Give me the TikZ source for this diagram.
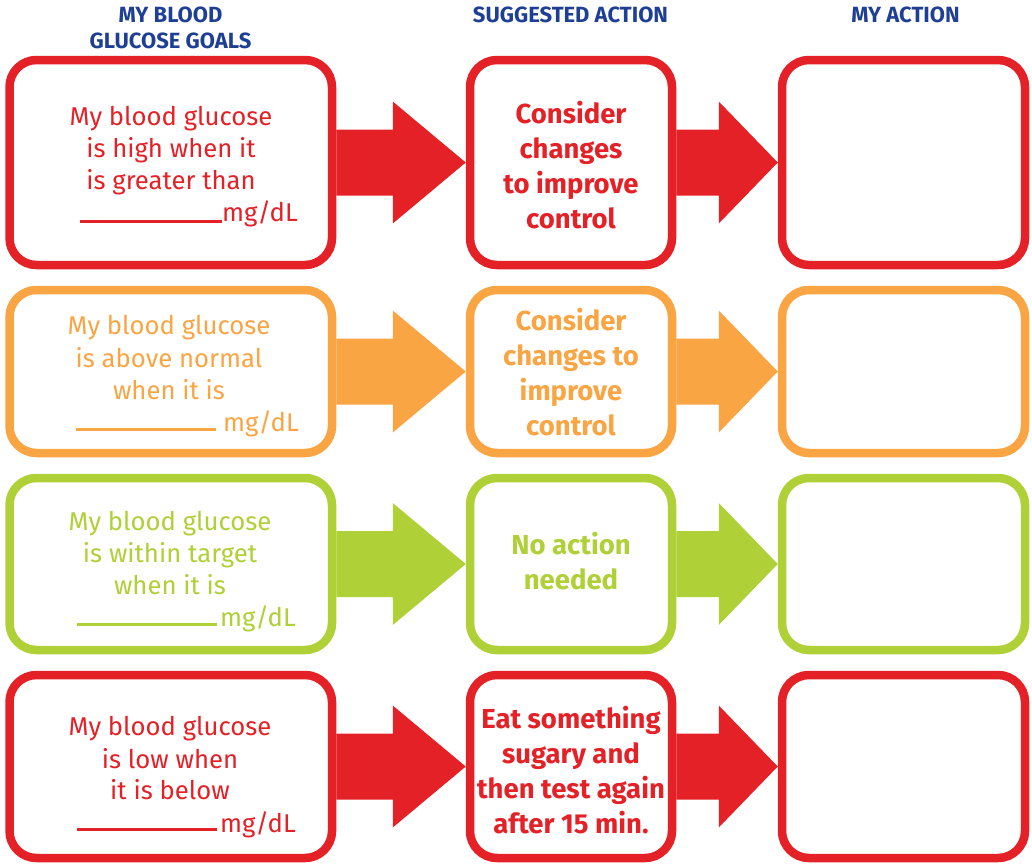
\documentclass[tikz,border=0pt]{standalone}
\usepackage{fontspec}
\setmainfont{Fira Sans}
\newfontfamily\hdrfont{Fira Sans}
\usetikzlibrary{calc}
\definecolor{cred}{RGB}{227,33,39}
\definecolor{corange}{RGB}{249,165,67}
\definecolor{cgreen}{RGB}{175,208,54}
\definecolor{cnavy}{RGB}{30,63,148}
\begin{document}
\begin{tikzpicture}[x=1pt,y=-1pt,
  box/.style={draw=#1, line width=8.5pt, rounded corners=27pt, inner sep=0pt, fill=white},
  goal/.style={text=#1, font=\fontsize{25.7}{32}\selectfont, inner sep=0pt, anchor=base},
  act/.style={text=#1, font=\fontsize{27.5}{35}\selectfont\bfseries, inner sep=0pt, anchor=base},
  hdr/.style={text=cnavy, font=\hdrfont\fontsize{22}{26}\selectfont\bfseries, inner sep=0pt, anchor=base},
  blank/.style={draw=#1, line width=3pt},
  leftbox/.style={minimum width=322.5pt},
  midbox/.style={minimum width=202pt},
  rightbox/.style={minimum width=243pt}]
\useasboundingbox (0,0) rectangle (1032,863);

% headers
\node[hdr] (H1a) at (170.5,22.5) {MY BLOOD};
\node[hdr] (H1b) at (170.5,48.7) {GLUCOSE GOALS};
\node[hdr] (H2) at (570.5,22.5) {SUGGESTED ACTION};
\node[hdr] (H3) at (905.5,22.5) {MY ACTION};

% ---------- Row 1 ----------
\node[box=cred, leftbox, minimum height=205pt] (L1) at (170.75,162.5) {};
\node[box=cred, midbox, minimum height=205pt] (M1) at (571,162.5) {};
\node[box=cred, rightbox, minimum height=205pt] (R1) at (903.5,162.5) {};
\fill[cred] ($(L1.east)+(0,-33)$) -- ($(M1.west)+(-73,-33)$) -- ($(M1.west)+(-73,-61)$) -- (M1.west)
  -- ($(M1.west)+(-73,61)$) -- ($(M1.west)+(-73,33)$) -- ($(L1.east)+(0,33)$) -- cycle;
\fill[cred] ($(M1.east)+(0,-33)$) -- ($(R1.west)+(-59,-33)$) -- ($(R1.west)+(-59,-61)$) -- (R1.west)
  -- ($(R1.west)+(-59,61)$) -- ($(R1.west)+(-59,33)$) -- ($(M1.east)+(0,33)$) -- cycle;
\node[goal=cred] (L1a) at (171,125) {My blood glucose};
\node[goal=cred] (L1b) at (171,157) {is high when it};
\node[goal=cred] (L1c) at (171,189) {is greater than};
\node[goal=cred, anchor=base west] (L1d) at (222,221) {mg/dL};
\coordinate (U1) at (80,221);
\draw[blank=cred] (U1) -- (L1d.base west);
\node[act=cred] (M1a) at (571,123) {Consider};
\node[act=cred] (M1b) at (571,158) {changes};
\node[act=cred] (M1c) at (571,193) {to improve};
\node[act=cred] (M1d) at (571,228) {control};

% ---------- Row 2 ----------
\node[box=corange, leftbox, minimum height=163pt] (L2) at (170.75,371.5) {};
\node[box=corange, midbox, minimum height=163pt] (M2) at (571,371.5) {};
\node[box=corange, rightbox, minimum height=163pt] (R2) at (903.5,371.5) {};
\fill[corange] ($(L2.east)+(0,-33)$) -- ($(M2.west)+(-73,-33)$) -- ($(M2.west)+(-73,-61)$) -- (M2.west)
  -- ($(M2.west)+(-73,61)$) -- ($(M2.west)+(-73,33)$) -- ($(L2.east)+(0,33)$) -- cycle;
\fill[corange] ($(M2.east)+(0,-33)$) -- ($(R2.west)+(-59,-33)$) -- ($(R2.west)+(-59,-61)$) -- (R2.west)
  -- ($(R2.west)+(-59,61)$) -- ($(R2.west)+(-59,33)$) -- ($(M2.east)+(0,33)$) -- cycle;
\node[goal=corange] (L2a) at (169,334) {My blood glucose};
\node[goal=corange] (L2b) at (169,367) {is above normal};
\node[goal=corange] (L2c) at (169,399) {when it is};
\node[goal=corange, anchor=base west] (L2d) at (223,431) {mg/dL};
\coordinate (U2) at (76,429);
\draw[blank=corange] (U2) -- (216,429);
\node[act=corange] (M2a) at (571,330) {Consider};
\node[act=corange] (M2b) at (571,365) {changes to};
\node[act=corange] (M2c) at (571,400) {improve};
\node[act=corange] (M2d) at (571,435) {control};

% ---------- Row 3 ----------
\node[box=cgreen, leftbox, minimum height=172pt] (L3) at (170.75,564) {};
\node[box=cgreen, midbox, minimum height=172pt] (M3) at (571,564) {};
\node[box=cgreen, rightbox, minimum height=172pt] (R3) at (903.5,564) {};
\fill[cgreen] ($(L3.east)+(0,-33)$) -- ($(M3.west)+(-73,-33)$) -- ($(M3.west)+(-73,-61)$) -- (M3.west)
  -- ($(M3.west)+(-73,61)$) -- ($(M3.west)+(-73,33)$) -- ($(L3.east)+(0,33)$) -- cycle;
\fill[cgreen] ($(M3.east)+(0,-33)$) -- ($(R3.west)+(-59,-33)$) -- ($(R3.west)+(-59,-61)$) -- (R3.west)
  -- ($(R3.west)+(-59,61)$) -- ($(R3.west)+(-59,33)$) -- ($(M3.east)+(0,33)$) -- cycle;
\node[goal=cgreen] (L3a) at (170,530) {My blood glucose};
\node[goal=cgreen] (L3b) at (170,562) {is within target};
\node[goal=cgreen] (L3c) at (170,594) {when it is};
\node[goal=cgreen, anchor=base west] (L3d) at (220,626) {mg/dL};
\coordinate (U3) at (77,624);
\draw[blank=cgreen] (U3) -- (217,624);
\node[act=cgreen] (M3a) at (571,554) {No action};
\node[act=cgreen] (M3b) at (571,589) {needed};

% ---------- Row 4 ----------
\node[box=cred, leftbox, minimum height=183pt] (L4) at (170.75,766.5) {};
\node[box=cred, midbox, minimum height=183pt] (M4) at (571,766.5) {};
\node[box=cred, rightbox, minimum height=183pt] (R4) at (903.5,766.5) {};
\fill[cred] ($(L4.east)+(0,-33)$) -- ($(M4.west)+(-73,-33)$) -- ($(M4.west)+(-73,-61)$) -- (M4.west)
  -- ($(M4.west)+(-73,61)$) -- ($(M4.west)+(-73,33)$) -- ($(L4.east)+(0,33)$) -- cycle;
\fill[cred] ($(M4.east)+(0,-33)$) -- ($(R4.west)+(-59,-33)$) -- ($(R4.west)+(-59,-61)$) -- (R4.west)
  -- ($(R4.west)+(-59,61)$) -- ($(R4.west)+(-59,33)$) -- ($(M4.east)+(0,33)$) -- cycle;
\node[goal=cred] (L4a) at (170,735) {My blood glucose};
\node[goal=cred] (L4b) at (170,768) {is low when};
\node[goal=cred] (L4c) at (170,799) {it is below};
\node[goal=cred, anchor=base west] (L4d) at (220,832) {mg/dL};
\coordinate (U4) at (77,829);
\draw[blank=cred] (U4) -- (217,829);
\node[act=cred] (M4a) at (571,728) {Eat something};
\node[act=cred] (M4b) at (571,763) {sugary and};
\node[act=cred] (M4c) at (571,798) {then test again};
\node[act=cred] (M4d) at (571,833) {after 15 min.};
\end{tikzpicture}
\end{document}
